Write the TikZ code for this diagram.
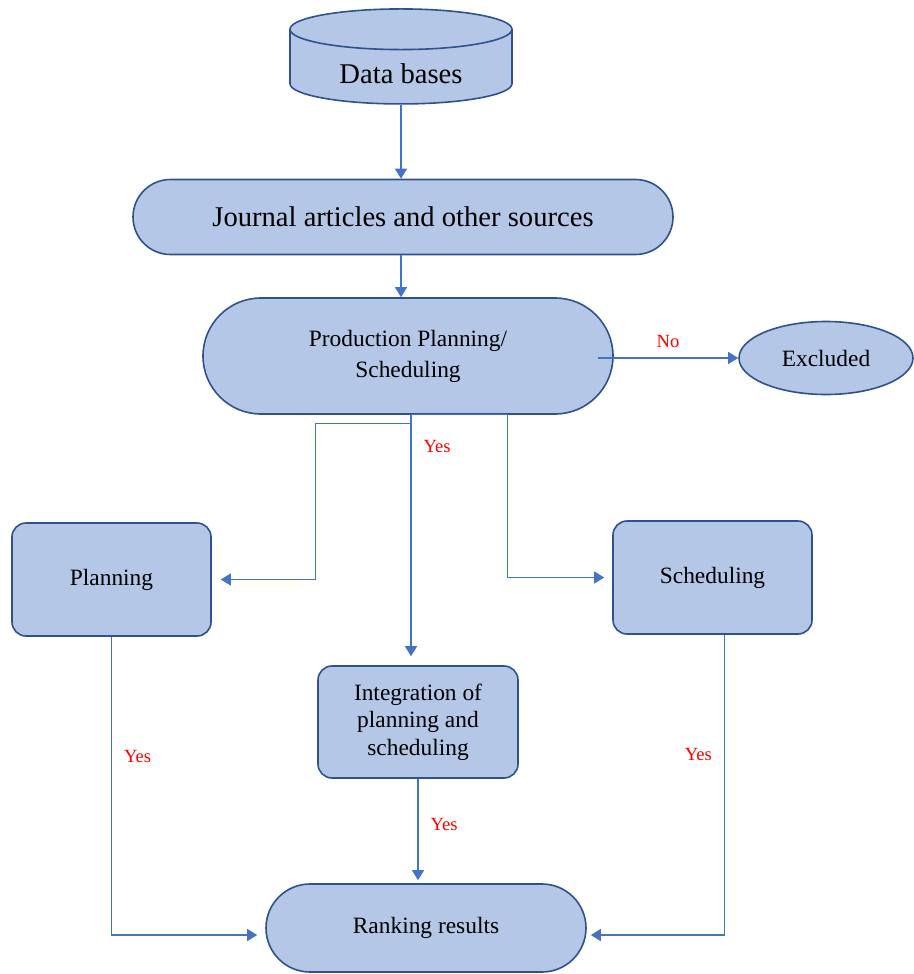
\documentclass[tikz,border=0pt]{standalone}
\usepackage{fontspec}
\setmainfont{Liberation Serif}
\usetikzlibrary{shapes.geometric,shapes.misc,arrows.meta}

\definecolor{boxfill}{HTML}{B4C7E7}
\definecolor{boxline}{HTML}{2F528F}
\definecolor{linkblue}{HTML}{4472C4}

\tikzset{
  base/.style={draw=boxline, fill=boxfill, line width=0.8pt, align=center, inner sep=0pt,
    font=\fontsize{11.7}{15.5}\selectfont},
  pill/.style={base, rounded rectangle},
  card/.style={base, rectangle, rounded corners=7pt},
  link/.style={draw=linkblue, line width=0.6pt, -{Triangle[length=5pt,width=6pt]}},
  answer/.style={text=red, font=\fontsize{9.3}{11}\selectfont, inner sep=2pt}
}

\begin{document}
\begin{tikzpicture}[x=0.5pt, y=-0.5pt]
  \useasboundingbox (0,0) rectangle (914,974);

  %Define nodes
  \node[base, cylinder, shape border rotate=90, shape aspect=0.33,
        minimum width=111pt, minimum height=46pt,
        font=\fontsize{14.3}{17}\selectfont] (db) at (401,67) {\rule{0pt}{16.5pt}Data bases};
  \node[pill, minimum width=270pt, minimum height=37.5pt,
        font=\fontsize{14.3}{17}\selectfont] (journal) at (403,217) {Journal articles and other sources};
  \node[pill, minimum width=205pt, minimum height=58pt] (prod) at (408,356) {Production Planning/\\Scheduling};
  \node[base, ellipse, minimum width=87pt, minimum height=36.5pt] (excl) at (826,358) {Excluded};
  \node[card, minimum width=99.5pt, minimum height=56.5pt] (plan) at (111.5,579.5) {Planning};
  \node[card, minimum width=99.5pt, minimum height=56.5pt] (sched) at (712.5,577.5) {Scheduling};
  \node[card, minimum width=100pt, minimum height=56pt,
        font=\fontsize{11.7}{13.75}\selectfont] (integ) at (418,722) {Integration of\\planning and\\scheduling};
  \node[pill, minimum width=160pt, minimum height=44pt] (rank) at (426,928) {Ranking results};

  \coordinate (fork) at ([xshift=1.5pt]prod.south);

  % Connect the nodes
  \draw[link] (db.south) -- (journal.north -| db.south);
  \draw[link] (journal.south -| db.south) -- (prod.north -| db.south);
  \draw[link] ([xshift=-8pt]excl.west -| prod.east) -- node[answer, above=3pt] {No} (excl.west);
  \draw[link] (fork) -- node[answer, pos=0.13, right=4pt] {Yes} ([yshift=4.5pt]integ.north -| fork);
  \draw[link] ([yshift=-4.5pt]fork) -| ([xshift=52pt]plan.east) -- ([xshift=4.5pt]plan.east);
  \draw[link] (fork) -| ([xshift=-52.5pt]sched.west) -- ([xshift=-4pt]sched.west);

  \draw[link] (plan.south) |- node[answer, pos=0.2, right=4pt] {Yes} ([xshift=-4pt,yshift=-3.5pt]rank.west);
  \draw[link] (integ.south) -- node[answer, pos=0.45, right=4pt] {Yes} ([yshift=1.5pt]rank.north -| integ.south);
  \draw[link] ([xshift=6pt]sched.south) |- node[answer, pos=0.2, left=4pt] {Yes} ([xshift=2pt,yshift=-3.5pt]rank.east);
\end{tikzpicture}
\end{document}
